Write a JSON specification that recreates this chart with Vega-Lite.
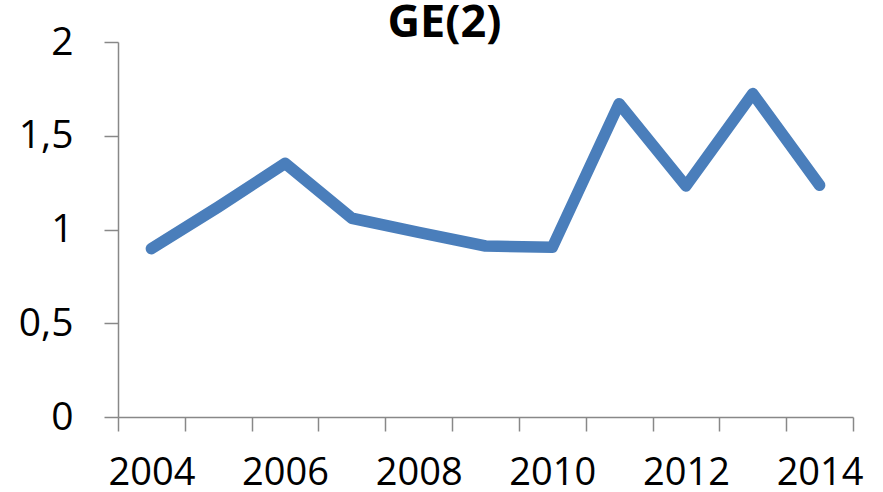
{
  "$schema": "https://vega.github.io/schema/vega-lite/v6.json",
  "width": 735,
  "height": 375,
  "autosize": "none",
  "padding": {"left": 118, "top": 42, "right": 30, "bottom": 75},
  "background": "white",
  "title": {
    "text": "GE(2)",
    "font": "Open Sans",
    "fontWeight": "bold",
    "fontSize": 45,
    "color": "#000000",
    "anchor": "middle",
    "frame": "group",
    "baseline": "alphabetic",
    "offset": -59,
    "dx": -41
  },
  "data": {
    "values": [
      {"year": 2004, "value": 0.898},
      {"year": 2005, "value": 1.12},
      {"year": 2006, "value": 1.353},
      {"year": 2007, "value": 1.06},
      {"year": 2008, "value": 0.985},
      {"year": 2009, "value": 0.912},
      {"year": 2010, "value": 0.905},
      {"year": 2011, "value": 1.671},
      {"year": 2012, "value": 1.232},
      {"year": 2013, "value": 1.725},
      {"year": 2014, "value": 1.236}
    ]
  },
  "mark": {
    "type": "line",
    "color": "#4A7EBB",
    "strokeWidth": 11.5,
    "strokeCap": "round",
    "strokeJoin": "round"
  },
  "encoding": {
    "x": {
      "field": "year",
      "type": "ordinal",
      "bandPosition": 0.5,
      "scale": {"type": "band", "paddingInner": 0, "paddingOuter": 0},
      "axis": {
        "title": null,
        "tickBand": "extent",
        "labelAngle": 0,
        "labelOverlap": false,
        "labelExpr": "datum.value % 2 == 0 ? datum.label : ''",
        "labelFont": "Open Sans",
        "labelFontSize": 38,
        "labelColor": "#000000",
        "labelPadding": 23,
        "tickSize": 14,
        "tickWidth": 1.5,
        "tickColor": "#888888",
        "domainColor": "#888888",
        "domainWidth": 1.5,
        "grid": false
      }
    },
    "y": {
      "field": "value",
      "type": "quantitative",
      "scale": {"domain": [0, 2], "nice": false, "zero": true},
      "axis": {
        "title": null,
        "values": [0, 0.5, 1, 1.5, 2],
        "labelExpr": "replace(format(datum.value, '.1~f'), '.', ',')",
        "labelFont": "Open Sans",
        "labelFontSize": 39,
        "labelColor": "#000000",
        "labelPadding": 31,
        "tickSize": 14,
        "tickWidth": 1.5,
        "tickColor": "#888888",
        "domainColor": "#888888",
        "domainWidth": 1.5,
        "grid": false
      }
    }
  },
  "config": {"view": {"stroke": null}}
}
